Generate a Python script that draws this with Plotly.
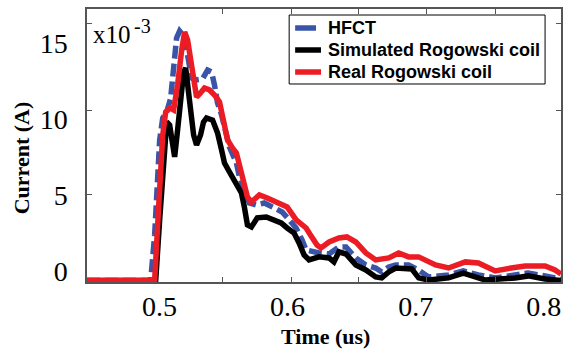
import plotly.graph_objects as go

# Time axis in microseconds, current in units of 1e-3 A

hfct_t = [0.4435, 0.4932, 0.4963, 0.4987, 0.5002, 0.5026, 0.5057, 0.5088, 0.5111, 0.5134,
          0.5158, 0.5189, 0.5220, 0.5251, 0.5290, 0.5336, 0.5376, 0.5407, 0.5430, 0.5454,
          0.5485, 0.5547, 0.5601, 0.5625, 0.5663, 0.5702, 0.5757, 0.5819, 0.5896, 0.5958,
          0.6013, 0.6067, 0.6113, 0.6145, 0.6246, 0.6324, 0.6401, 0.6456, 0.6533, 0.6611,
          0.6688, 0.6735, 0.6790, 0.6844, 0.6945, 0.7023, 0.7100, 0.7256, 0.7372, 0.7489,
          0.7621, 0.7878, 0.8010, 0.8134]
hfct_i = [-0.60, -0.60, 2.39, 6.01, 8.63, 10.08, 10.47, 11.39, 13.56, 15.33,
          15.79, 15.47, 14.22, 12.71, 12.58, 12.64, 13.23, 13.10, 12.25, 11.06,
          10.28, 8.17, 7.12, 6.20, 5.35, 4.49, 4.36, 4.49, 4.17, 3.90,
          3.38, 2.85, 2.06, 1.41, 1.21, 1.14, 1.60, 1.60, 0.88, 0.42,
          0.22, -0.04, 0.29, 0.42, 0.42, 0.09, -0.37, -0.24, 0.03, -0.24,
          -0.43, -0.11, -0.30, -0.50]

sim_t = [0.4435, 0.4971, 0.5002, 0.5033, 0.5057, 0.5080, 0.5096, 0.5119, 0.5142, 0.5166,
         0.5189, 0.5205, 0.5220, 0.5243, 0.5267, 0.5290, 0.5321, 0.5344, 0.5368, 0.5415,
         0.5454, 0.5485, 0.5508, 0.5547, 0.5586, 0.5640, 0.5663, 0.5687, 0.5718, 0.5764,
         0.5834, 0.5896, 0.5950, 0.5997, 0.6051, 0.6090, 0.6129, 0.6168, 0.6246, 0.6324,
         0.6362, 0.6401, 0.6456, 0.6533, 0.6611, 0.6688, 0.6735, 0.6790, 0.6844, 0.6969,
         0.7023, 0.7100, 0.7256, 0.7372, 0.7450, 0.7543, 0.7776, 0.7878, 0.8010, 0.8134]
sim_i = [-0.60, -0.60, 3.38, 7.32, 9.81, 9.62, 8.63, 7.52, 9.29, 11.59,
         13.10, 13.36, 12.25, 10.28, 8.96, 8.30, 8.96, 9.81, 10.08, 9.94,
         9.09, 7.98, 7.12, 6.53, 5.87, 5.15, 4.23, 3.05, 2.92, 3.52,
         3.57, 3.38, 3.18, 2.85, 2.52, 1.87, 1.08, 0.75, 0.95, 0.88,
         0.62, 1.28, 1.14, 0.42, 0.09, -0.37, -0.43, -0.04, 0.22, 0.16,
         -0.43, -0.57, -0.43, -0.11, -0.30, -0.57, -0.43, -0.30, -0.50, -0.60]

real_t = [0.4435, 0.4963, 0.4995, 0.5026, 0.5049, 0.5080, 0.5111, 0.5142, 0.5174, 0.5197,
          0.5220, 0.5243, 0.5267, 0.5290, 0.5321, 0.5352, 0.5391, 0.5430, 0.5469, 0.5500,
          0.5532, 0.5570, 0.5601, 0.5640, 0.5687, 0.5718, 0.5748, 0.5780, 0.5842, 0.5912,
          0.5997, 0.6067, 0.6145, 0.6183, 0.6230, 0.6261, 0.6324, 0.6401, 0.6463, 0.6533,
          0.6611, 0.6688, 0.6790, 0.6867, 0.6945, 0.7023, 0.7155, 0.7256, 0.7388, 0.7489,
          0.7621, 0.7745, 0.7854, 0.8010, 0.8087, 0.8134]
real_i = [-0.60, -0.60, 4.36, 8.96, 10.47, 10.74, 10.60, 12.25, 14.55, 15.73,
          15.20, 13.76, 12.25, 11.46, 11.72, 12.05, 11.92, 11.59, 11.13, 10.08,
          8.63, 8.11, 7.78, 6.47, 4.89, 4.56, 4.82, 5.02, 4.82, 4.56,
          4.23, 3.38, 2.85, 2.33, 1.73, 1.54, 1.93, 2.19, 2.26, 1.93,
          1.21, 0.75, 0.88, 1.21, 0.95, 0.95, 0.42, 0.22, 0.62, 0.55,
          0.03, 0.22, 0.35, 0.35, 0.09, -0.17]

series_names = ["HFCT", "Simulated Rogowski coil", "Real Rogowski coil"]

x_tick_vals = [0.5, 0.6, 0.7, 0.8]
x_tick_text = ["0.5", "0.6", "0.7", "0.8"]
x_mark_vals = [0.5492, 0.6029, 0.6550, 0.7086, 0.7622]
y_tick_vals = [0, 5, 10, 15]
y_tick_text = ["0", "5", "10", "15"]
y_mark_vals = [5.02, 10.60, 16.32]

BLUE = "rgb(58,85,168)"
RED = "rgb(236,28,36)"
SERIF = "Liberation Serif"
LW = 5.5

fig = go.Figure()
fig.add_trace(go.Scatter(x=hfct_t, y=hfct_i, mode="lines", name=series_names[0],
                         line=dict(color=BLUE, width=LW, dash="13px,5px")))
fig.add_trace(go.Scatter(x=sim_t, y=sim_i, mode="lines", name=series_names[1],
                         line=dict(color="black", width=LW)))
fig.add_trace(go.Scatter(x=real_t, y=real_i, mode="lines", name=series_names[2],
                         line=dict(color=RED, width=LW)))

axis_common = dict(
    showgrid=False, zeroline=False, showline=True, linecolor="#555555", linewidth=1.5,
    mirror="ticks", ticks="inside", ticklen=0, tickcolor="#555555",
    tickfont=dict(family=SERIF, size=28, color="black"), tickmode="array",
)
fig.update_xaxes(**axis_common, range=[0.4435, 0.8134],
                 tickvals=x_tick_vals, ticktext=x_tick_text, ticklabelstandoff=-1,
                 minor=dict(tickmode="array", tickvals=x_mark_vals, ticks="inside",
                            ticklen=5, tickcolor="#555555", tickwidth=1))
fig.update_yaxes(**axis_common, range=[-0.70, 17.24],
                 tickvals=y_tick_vals, ticktext=y_tick_text, ticklabelstandoff=12,
                 minor=dict(tickmode="array", tickvals=y_mark_vals, ticks="inside",
                            ticklen=5, tickcolor="#555555", tickwidth=1))

# Scale factor label: mantissa and a larger-than-default exponent
fig.add_annotation(text="x10", xref="paper", yref="paper",
                   x=0.0084, y=0.9075, xanchor="left", yanchor="middle", showarrow=False,
                   font=dict(family=SERIF, size=25, color="black"))
fig.add_annotation(text="-3", xref="paper", yref="paper",
                   x=0.0945, y=0.9364, xanchor="left", yanchor="middle", showarrow=False,
                   font=dict(family=SERIF, size=20, color="black"))
# Axis titles
fig.add_annotation(text="<b>Time (us)</b>", xref="paper", yref="paper",
                   x=0.504, y=-0.198, xanchor="center", yanchor="middle", showarrow=False,
                   font=dict(family=SERIF, size=22, color="black"))
fig.add_annotation(text="<b>Current (A)</b>", xref="paper", yref="paper",
                   x=-0.138, y=0.455, xanchor="center", yanchor="middle", showarrow=False,
                   textangle=-90, font=dict(family=SERIF, size=22, color="black"))

# Legend box drawn in paper coordinates
leg_x0, leg_x1, leg_y0, leg_y1 = 0.4265, 0.9664, 0.7253, 0.978
row_y = [0.9304, 0.8498, 0.7692]
sample_x0 = 0.4391
sample_x1 = [0.4832, 0.4937, 0.4937]
sample_colors = [BLUE, "black", RED]
text_x = 0.5042

fig.add_shape(type="rect", xref="paper", yref="paper",
              x0=leg_x0, x1=leg_x1, y0=leg_y0, y1=leg_y1,
              line=dict(color="black", width=1), fillcolor="white", layer="above")
for name, yy, x1, col in zip(series_names, row_y, sample_x1, sample_colors):
    fig.add_shape(type="line", xref="paper", yref="paper",
                  x0=sample_x0, x1=x1, y0=yy, y1=yy,
                  line=dict(color=col, width=LW), layer="above")
    fig.add_annotation(text="<b>" + name + "</b>", xref="paper", yref="paper",
                       x=text_x, y=yy, xanchor="left", yanchor="middle", showarrow=False,
                       font=dict(family="Liberation Sans", size=18, color="black"))

fig.update_layout(
    width=564, height=351,
    margin=dict(l=87, r=1, t=9, b=69),
    paper_bgcolor="white", plot_bgcolor="white",
    showlegend=False,
)

fig.write_html("out.html")
